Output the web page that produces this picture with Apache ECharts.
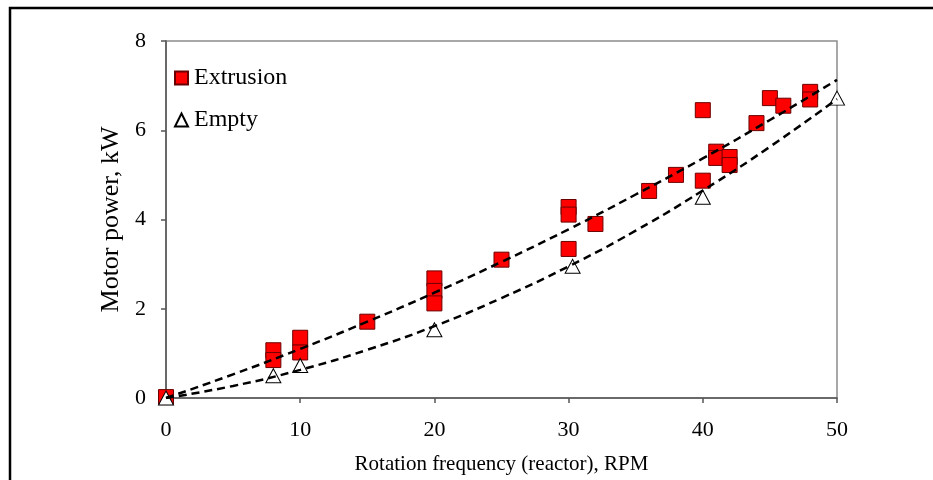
<!DOCTYPE html>
<html>
<head>
<meta charset="utf-8">
<script src="https://cdn.jsdelivr.net/npm/echarts@6/dist/echarts.min.js"></script>
<style>
  html, body { margin: 0; padding: 0; background: #fff; }
  #chart { width: 933px; height: 480px; }
</style>
</head>
<body>
<div id="chart"></div>
<script>
// Measured motor power with the extruder loaded
const extrusionRpm = [0, 8, 8, 10, 10, 15, 20, 20, 20, 25, 30, 30, 30, 32, 36, 38, 40, 40, 41, 41, 42, 42, 44, 45, 46, 48, 48];
const extrusionKw  = [0.02, 1.07, 0.85, 1.35, 1.02, 1.71, 2.68, 2.40, 2.12, 3.10, 4.28, 4.11, 3.34, 3.90, 4.64, 5.00, 6.45, 4.87, 5.52, 5.38, 5.40, 5.22, 6.16, 6.72, 6.55, 6.86, 6.69];

// Measured motor power running empty
const emptyRpm = [0, 8, 10, 20, 30.3, 40, 50];
const emptyKw  = [0, 0.50, 0.73, 1.53, 2.95, 4.50, 6.72];

// Trend curves (dashed)
const trendRpm       = [0, 5, 10, 15, 20, 25, 30, 35, 40, 45, 50];
const trendExtrusion = [0, 0.53, 1.10, 1.71, 2.36, 3.05, 3.78, 4.56, 5.37, 6.23, 7.13];
const trendEmpty     = [0, 0.27, 0.63, 1.08, 1.61, 2.24, 2.95, 3.75, 4.65, 5.63, 6.70];

const xTicks = [0, 10, 20, 30, 40, 50];
const yTicks = [0, 2, 4, 6, 8];

const pairs = (xs, ys) => xs.map((x, i) => [x, ys[i]]);
const serif = 'Liberation Serif';

const chart = echarts.init(document.getElementById('chart'), null, { renderer: 'canvas' });
chart.setOption({
  animation: false,
  backgroundColor: '#fff',
  textStyle: { fontFamily: serif, color: '#000' },
  graphic: [{
    type: 'rect',
    shape: { x: 10, y: 8, width: 940, height: 490 },
    style: { fill: 'none', stroke: '#000', lineWidth: 2.5 },
    silent: true
  }],
  grid: {
    left: 166, right: 96, top: 41, bottom: 79,
    show: true, borderColor: '#8c8c8c', borderWidth: 1.5, backgroundColor: 'transparent'
  },
  legend: {
    orient: 'vertical',
    left: 174, top: 66,
    padding: 0,
    itemWidth: 13, itemHeight: 13, itemGap: 18,
    textStyle: { fontFamily: serif, fontSize: 24, color: '#000', lineHeight: 24, padding: [0, 0, 0, 1] },
    data: [
      { name: 'Extrusion', icon: 'rect' },
      { name: 'Empty', icon: 'triangle' }
    ]
  },
  xAxis: {
    type: 'value',
    min: xTicks[0], max: xTicks[xTicks.length - 1], interval: 10,
    name: 'Rotation frequency (reactor), RPM',
    nameLocation: 'middle', nameGap: 56,
    nameTextStyle: { fontFamily: serif, fontSize: 21, color: '#000' },
    axisLine: { show: true, onZero: false, lineStyle: { color: '#555', width: 1.5 } },
    axisTick: { show: true, inside: false, length: 5, lineStyle: { color: '#555', width: 1.5 } },
    axisLabel: { fontFamily: serif, fontSize: 22, color: '#000', margin: 21 },
    splitLine: { show: false }
  },
  yAxis: {
    type: 'value',
    min: yTicks[0], max: yTicks[yTicks.length - 1], interval: 2,
    name: 'Motor power, kW',
    nameLocation: 'middle', nameGap: 42,
    nameTextStyle: { fontFamily: serif, fontSize: 26, color: '#000' },
    axisLine: { show: true, onZero: false, lineStyle: { color: '#555', width: 1.5 } },
    axisTick: { show: true, inside: false, length: 5, lineStyle: { color: '#555', width: 1.5 } },
    axisLabel: { fontFamily: serif, fontSize: 22, color: '#000', margin: 20 },
    splitLine: { show: false }
  },
  series: [
    {
      name: 'Extrusion',
      type: 'scatter',
      symbol: 'rect',
      symbolSize: 15,
      itemStyle: { color: '#ff0000', borderColor: '#6b0000', borderWidth: 1, opacity: 1 },
      data: pairs(extrusionRpm, extrusionKw),
      z: 2
    },
    {
      name: 'Empty',
      type: 'scatter',
      symbol: 'triangle',
      symbolSize: [15, 14],
      itemStyle: { color: '#fff', borderColor: '#000', borderWidth: 1, opacity: 1 },
      data: pairs(emptyRpm, emptyKw),
      z: 3
    },
    {
      name: 'Extrusion trend',
      type: 'line',
      smooth: true,
      symbol: 'none',
      lineStyle: { color: '#000', width: 2.5, type: [8, 5] },
      data: pairs(trendRpm, trendExtrusion),
      z: 4
    },
    {
      name: 'Empty trend',
      type: 'line',
      smooth: true,
      symbol: 'none',
      lineStyle: { color: '#000', width: 2.5, type: [8, 5] },
      data: pairs(trendRpm, trendEmpty),
      z: 4
    }
  ]
});
</script>
</body>
</html>
